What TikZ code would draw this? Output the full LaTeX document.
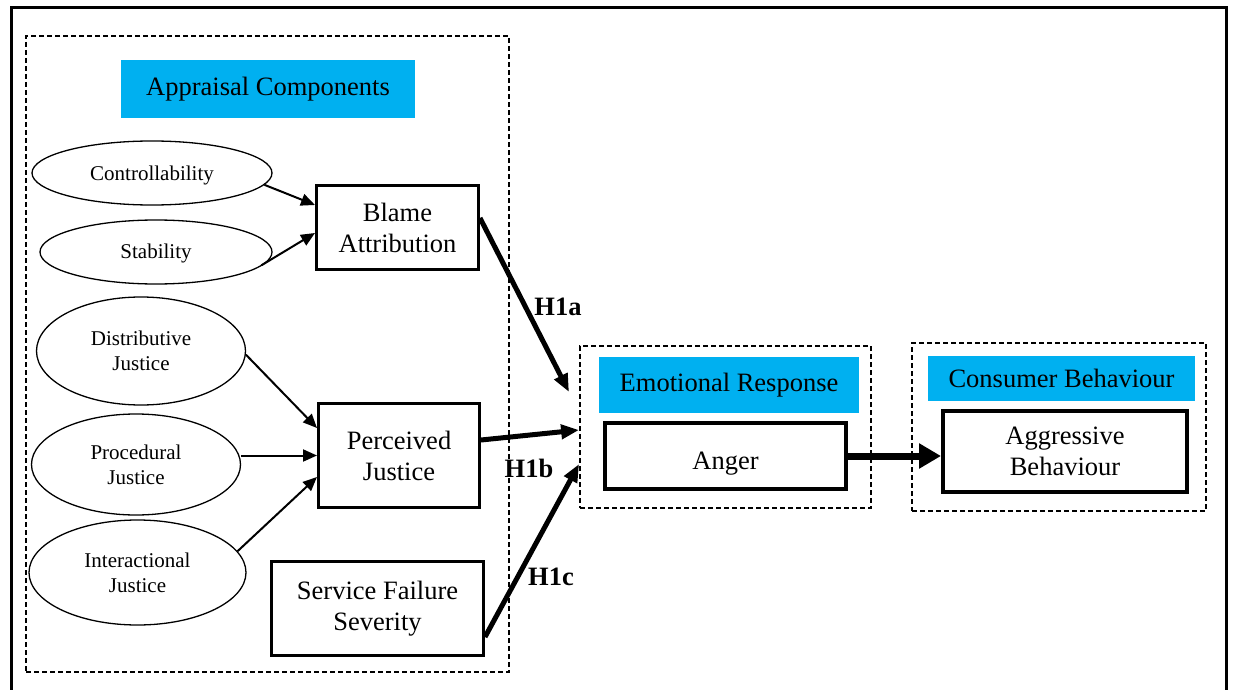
\documentclass[tikz,border=0pt]{standalone}
\usepackage{fontspec}
\setmainfont{Liberation Serif}
\usetikzlibrary{shapes.geometric,arrows.meta}
\definecolor{labelblue}{HTML}{00B0F0}
\begin{document}
\begin{tikzpicture}[x=1pt,y=-1pt,
  big/.style={font=\fontsize{26.5}{31}\selectfont},
  small/.style={font=\fontsize{21}{25}\selectfont},
  concept/.style={draw, line width=3pt, align=center, big, inner sep=0pt},
  oval/.style={draw, ellipse, line width=1.3pt, align=center, small, inner sep=0pt},
  tag/.style={fill=labelblue, big, inner sep=0pt},
  group/.style={draw, dash pattern=on 5pt off 3pt, line width=1.8pt, inner sep=0pt},
  feed/.style={-{Triangle[length=14pt,width=12pt]}, line width=2pt},
  hyp/.style={-{Triangle[length=18pt,width=14pt]}, line width=5pt},
  hlabel/.style={font=\fontsize{26.5}{31}\selectfont\bfseries, inner sep=0pt}
]
\clip (0,0) rectangle (1234,690);

% outer frame (open at the bottom)
\draw[line width=3pt] (11.5,700) -- (11.5,7.5) -- (1226.5,7.5) -- (1226.5,700);

% appraisal components
\node[group, minimum width=483pt, minimum height=636pt] (apprbox) at (267.5,354) {};
\node[tag, minimum width=294pt, minimum height=58pt] (apprtag) at (268,89) {Appraisal Components};
\node[oval, minimum width=240pt, minimum height=64pt, text height=20pt, text depth=4.6pt] (ctrl) at (152,173) {Controllability};
\node[oval, minimum width=232pt, minimum height=64pt, text height=17pt, text depth=4.6pt] (stab) at (156,252) {Stability};
\node[concept, minimum width=162pt, minimum height=84pt] (blame) at (397.5,227.5) {Blame\\Attribution};
\node[oval, minimum width=209pt, minimum height=108pt] (dist) at (141,351) {Distributive\\Justice};
\node[oval, minimum width=209pt, minimum height=101pt] (proc) at (136,464.5) {Procedural\\Justice};
\node[oval, minimum width=217pt, minimum height=105pt] (inter) at (137.5,572.5) {Interactional\\Justice};
\node[concept, minimum width=161pt, minimum height=104pt] (perc) at (399,455.5) {Perceived\\Justice};
\node[concept, minimum width=212pt, minimum height=94pt] (sev) at (377.5,608.5) {Service Failure\\Severity};

% emotional response
\node[group, minimum width=291pt, minimum height=162pt] (emobox) at (725.5,427) {};
\node[tag, minimum width=260pt, minimum height=56pt] (emotag) at (729,385) {Emotional Response};
\node[concept, line width=4pt, minimum width=241pt, minimum height=66pt, text height=32pt, text depth=5.8pt] (anger) at (725.5,456) {Anger};

% consumer behaviour
\node[group, minimum width=294pt, minimum height=168pt] (consbox) at (1059,427) {};
\node[tag, minimum width=267pt, minimum height=45pt] (constag) at (1061.5,378.5) {Consumer Behaviour};
\node[concept, line width=4pt, minimum width=244pt, minimum height=81pt] (aggr) at (1065,451.5) {Aggressive\\Behaviour};

% antecedents
\draw[feed] (ctrl.-6) -- ([yshift=22.5pt]blame.west);
\draw[feed, shorten <=-7pt] (stab.-5) -- ([yshift=-5.5pt]blame.west);
\draw[feed] (dist.-2) -- ([yshift=27.5pt]perc.west);
\draw[feed] (proc.east |- perc.west) -- (perc.west);
\draw[feed] (inter.12) -- ([yshift=-21.5pt]perc.west);

% hypotheses
\coordinate (h1atip) at (569,392);
\draw[hyp] ([yshift=9.5pt]blame.east) -- (h1atip);
\draw[hyp] ([yshift=15.5pt]perc.east) -- ([yshift=-3pt]emobox.west);
\draw[hyp] ([yshift=-28.5pt]sev.east) -- ([yshift=-37pt]emobox.west);
\node[hlabel] (h1a) at (558,307) {H1a};
\node[hlabel] (h1b) at (529,468) {H1b};
\node[hlabel] (h1c) at (551,577) {H1c};

% anger to behaviour
\draw[-{Triangle[length=22pt,width=24pt]}, line width=7pt] (anger.east) -- (anger.east -| aggr.west);
\end{tikzpicture}
\end{document}
